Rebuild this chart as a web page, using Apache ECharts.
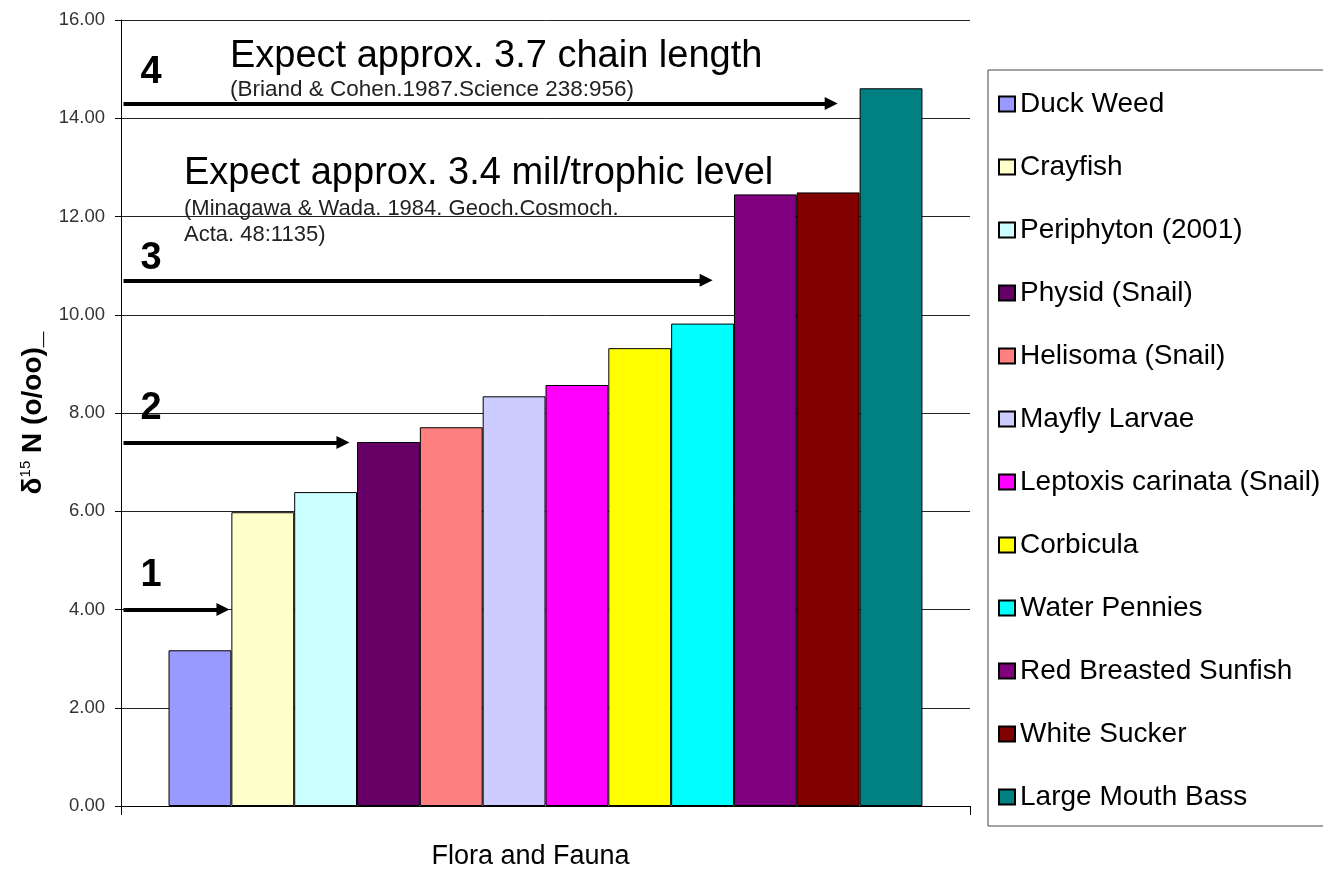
<!DOCTYPE html>
<html>
<head>
<meta charset="utf-8">
<script src="https://cdn.jsdelivr.net/npm/echarts@6/dist/echarts.min.js"></script>
<style>
  html, body { margin: 0; padding: 0; background: #fff; }
  #chart { width: 1323px; height: 870px; }
</style>
</head>
<body>
<div id="chart"></div>
<script>
// Organisms, ordered by nitrogen isotope signature
const organisms = [
  'Duck Weed', 'Crayfish', 'Periphyton (2001)', 'Physid (Snail)',
  'Helisoma (Snail)', 'Mayfly Larvae', 'Leptoxis carinata (Snail)',
  'Corbicula', 'Water Pennies', 'Red Breasted Sunfish', 'White Sucker',
  'Large Mouth Bass'
];
// δ15N (o/oo) per organism
const delta15N = [3.17, 5.98, 6.39, 7.41, 7.71, 8.34, 8.57, 9.32, 9.82, 12.45, 12.49, 14.61];

// Trophic level markers: level number, δ15N level, and where the arrow tip lands (in bar slots)
const trophicLevels = [1, 2, 3, 4];
const trophicDelta = [4.0, 7.4, 10.7, 14.3];
const arrowTip = [0.97, 2.88, 8.66, 10.65];

// Fill colours for the bars
const barColors = [
  '#9999FF', '#FFFFCC', '#CCFFFF', '#660066', '#FF8080', '#CCCCFF',
  '#FF00FF', '#FFFF00', '#00FFFF', '#800080', '#800000', '#008080'
];

const SANS = "'Liberation Sans', Arial, sans-serif";

// Plot box and the hidden slot axis used to place the arrows
const GRID = { left: 121, right: 353, top: 20, bottom: 64 };
const SLOT_MIN = -0.756, SLOT_MAX = 12.756;
const HEAD = [13, 13]; // arrowhead width, length
const slotPx = (1323 - GRID.left - GRID.right) / (SLOT_MAX - SLOT_MIN);
const arrowStart = -0.716;

const chart = echarts.init(document.getElementById('chart'), null, { renderer: 'canvas' });

const barSeries = organisms.map((name, i) => ({
  name: name,
  type: 'bar',
  xAxisIndex: 0,
  yAxisIndex: 0,
  data: [delta15N[i]],
  barGap: '0%',
  barCategoryGap: '11.2%',
  itemStyle: { color: barColors[i], borderColor: '#000', borderWidth: 1 },
  emphasis: { disabled: true },
  z: 2
}));

const arrowSeries = {
  name: 'levels',
  type: 'line',
  xAxisIndex: 1,
  yAxisIndex: 0,
  data: [],
  silent: true,
  z: 5,
  markLine: {
    silent: true,
    symbol: ['none', 'triangle'],
    symbolSize: HEAD,
    label: { show: false },
    lineStyle: { color: '#000', width: 4, type: 'solid', opacity: 1 },
    itemStyle: { color: '#000' },
    emphasis: { disabled: true },
    animation: false,
    data: trophicDelta.map((y, i) => [
      { coord: [arrowStart, y] },
      // the head is centred on the end point, so pull it back by half its length
      { coord: [arrowTip[i] - HEAD[1] / 2 / slotPx, y] }
    ])
  }
};

chart.setOption({
  animation: false,
  backgroundColor: '#fff',
  textStyle: { fontFamily: SANS },
  grid: Object.assign({ containLabel: false, outerBoundsMode: 'none' }, GRID),
  legend: {
    data: organisms,
    orient: 'vertical',
    left: 988,
    top: 70,
    padding: [19, 60, 14, 10],
    borderColor: '#444',
    borderWidth: 1,
    backgroundColor: '#fff',
    icon: 'rect',
    itemWidth: 16,
    itemHeight: 15,
    itemGap: 33,
    selectedMode: false,
    textStyle: { fontFamily: SANS, fontSize: 28, lineHeight: 30, color: '#000' }
  },
  xAxis: [
    {
      type: 'category',
      data: [''],
      name: 'Flora and Fauna',
      nameLocation: 'middle',
      nameGap: 37,
      nameTextStyle: { fontFamily: SANS, fontSize: 27, color: '#000', padding: [0, 30, 0, 0] },
      axisLine: { show: true, onZero: false, lineStyle: { color: '#000', width: 1 } },
      axisTick: { show: true, length: 9, lineStyle: { color: '#000' } },
      axisLabel: { show: false },
      splitLine: { show: false }
    },
    {
      type: 'value',
      min: SLOT_MIN,
      max: SLOT_MAX,
      show: false
    }
  ],
  yAxis: {
    type: 'value',
    min: 0,
    max: 16,
    interval: 2,
    name: '{d|δ}{s|15}{d| N (o/oo)_}',
    nameLocation: 'middle',
    nameGap: 73,
    nameRotate: 90,
    nameTextStyle: {
      rich: {
        d: { fontFamily: SANS, fontWeight: 'bold', fontSize: 28, color: '#000', lineHeight: 30 },
        s: { fontFamily: SANS, fontSize: 15, color: '#000', verticalAlign: 'top', lineHeight: 30 }
      }
    },
    axisLine: { show: true, onZero: false, lineStyle: { color: '#000', width: 1 } },
    axisTick: { show: true, length: 6, lineStyle: { color: '#000' } },
    axisLabel: {
      formatter: v => v.toFixed(2),
      fontFamily: SANS,
      fontSize: 18.5,
      color: '#333',
      margin: 16
    },
    splitLine: { show: true, lineStyle: { color: '#222', width: 1 } }
  },
  series: barSeries.concat([arrowSeries])
});

// Text annotations: level numbers above each arrow, and the expected-value notes
const numberLift = [34, 34, 22, 31];
const graphics = trophicLevels.map((lvl, i) => {
  const py = chart.convertToPixel({ yAxisIndex: 0 }, trophicDelta[i]);
  return {
    type: 'text',
    x: 151,
    y: py - numberLift[i],
    style: {
      text: String(lvl),
      font: "bold 38px " + SANS,
      fill: '#000',
      align: 'center',
      verticalAlign: 'middle'
    },
    z: 10
  };
});

const notes = [
  { text: 'Expect approx. 3.7 chain length', x: 230, y: 57, font: '38px ' + SANS, fill: '#000' },
  { text: '(Briand & Cohen.1987.Science 238:956)', x: 230, y: 90, font: '22.5px ' + SANS, fill: '#222' },
  { text: 'Expect approx. 3.4 mil/trophic level', x: 184, y: 174, font: '38px ' + SANS, fill: '#000' },
  { text: '(Minagawa & Wada. 1984. Geoch.Cosmoch.', x: 184, y: 209, font: '22px ' + SANS, fill: '#222' },
  { text: 'Acta. 48:1135)', x: 184, y: 235, font: '22px ' + SANS, fill: '#222' }
];
notes.forEach(n => graphics.push({
  type: 'text',
  x: n.x,
  y: n.y,
  style: { text: n.text, font: n.font, fill: n.fill, align: 'left', verticalAlign: 'middle' },
  z: 10
}));

chart.setOption({ graphic: graphics });
</script>
</body>
</html>
